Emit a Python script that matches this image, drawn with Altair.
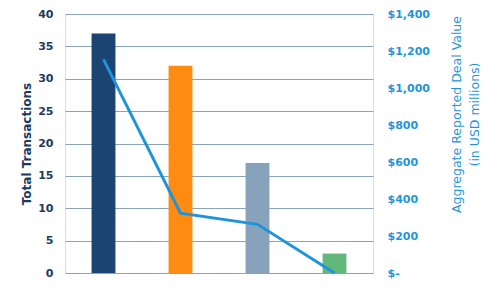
import altair as alt
import pandas as pd

categories = ["Category 1", "Category 2", "Category 3", "Category 4"]
transactions = [37, 32, 17, 3]
deal_value = [1155, 323, 263, 0]
bar_colors = ["#1b4472", "#ff8c10", "#87a2bb", "#62b77a"]

df = pd.DataFrame({"cat": categories, "tx": transactions, "val": deal_value})

x = alt.X("cat:N", sort=categories, axis=None,
          scale=alt.Scale(paddingInner=0.69, paddingOuter=0.345))

bars = alt.Chart(df).mark_bar().encode(
    x=x,
    y=alt.Y("tx:Q", scale=alt.Scale(domain=[0, 40]),
            axis=alt.Axis(values=list(range(0, 45, 5)), title="Total Transactions",
                          domain=False, ticks=False, labelPadding=12,
                          labelColor="#1a3a5e", titleColor="#1a3a5e",
                          labelFont="DejaVu Sans", titleFont="DejaVu Sans",
                          labelFontSize=11, titleFontSize=12, labelFontWeight="bold",
                          titleFontWeight="bold", titlePadding=4,
                          grid=True, gridColor="#8aa3bd", gridWidth=1.2)),
    color=alt.Color("cat:N", scale=alt.Scale(domain=categories, range=bar_colors), legend=None),
)

line = alt.Chart(df).mark_line(color="#1f94dc", strokeWidth=3).encode(
    x=x,
    y=alt.Y("val:Q", scale=alt.Scale(domain=[0, 1400]),
            axis=alt.Axis(values=list(range(0, 1600, 200)), orient="right",
                          title=["Aggregate Reported Deal Value", "(in USD millions)"],
                          labelExpr="datum.value == 0 ? '$-' : '$' + format(datum.value, ',')",
                          domain=False, ticks=False, grid=False, labelPadding=14,
                          labelColor="#1f94dc", titleColor="#1f94dc",
                          labelFont="DejaVu Sans", titleFont="DejaVu Sans",
                          labelFontSize=11, titleFontSize=12.5, labelFontWeight="bold",
                          titleFontWeight="normal", titleAngle=270, titlePadding=16,
                          titleLineHeight=18, titleY=100)),
)

chart = alt.layer(bars, line).resolve_scale(y="independent", color="independent").properties(
    width=308, height=259,
    autosize=alt.AutoSizeParams(type="none"),
    padding={"left": 65, "top": 14, "right": 120, "bottom": 15},
).configure_view(stroke=None).configure(background="white")

chart.save("out.html", embed_options={"renderer": "svg", "actions": False})
